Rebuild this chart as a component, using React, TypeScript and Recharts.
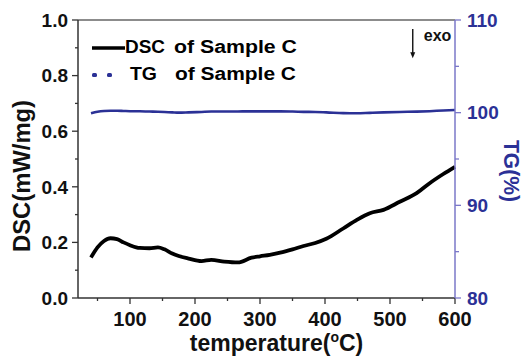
import React from 'react';
import { ComposedChart, Line, XAxis, YAxis, Legend, ReferenceLine, Label } from 'recharts';

// temperature (ºC) sampled along the curves
const temperature = [
  40, 50, 60, 70, 80, 90, 100, 115, 130, 143, 153, 165, 175, 190, 210, 225, 245, 266, 287, 300,
  315, 331, 350, 367, 385, 402, 428, 449, 469, 490, 515, 541, 561, 582, 600,
];
// DSC (mW/mg)
const dscValues = [
  0.146, 0.182, 0.205, 0.215, 0.212, 0.2, 0.19, 0.18, 0.179, 0.182, 0.175, 0.16, 0.151, 0.142,
  0.133, 0.137, 0.131, 0.128, 0.145, 0.15, 0.155, 0.163, 0.175, 0.187, 0.198, 0.213, 0.25,
  0.281, 0.305, 0.317, 0.346, 0.377, 0.413, 0.446, 0.472,
];
// TG (%)
const tgValues = [
  99.93, 100.1, 100.18, 100.2, 100.2, 100.18, 100.16, 100.15, 100.12, 100.1, 100.07, 100.03,
  100.0, 100.03, 100.08, 100.12, 100.12, 100.13, 100.14, 100.14, 100.14, 100.14, 100.12,
  100.09, 100.07, 100.03, 99.95, 99.93, 99.98, 100.03, 100.08, 100.11, 100.16, 100.24, 100.29,
];

const xTicks = [50, 100, 150, 200, 250, 300, 350, 400, 450, 500, 550, 600];
const dscTicks = [0, 0.1, 0.2, 0.3, 0.4, 0.5, 0.6, 0.7, 0.8, 0.9, 1.0];
const tgTicks = [80, 85, 90, 95, 100, 105, 110];

const rows = temperature.map((t, i) => ({ t, dsc: dscValues[i], tg: tgValues[i] }));

const FONT = '"Liberation Sans", Arial, sans-serif';
const AXIS = '#333';
const BLUE = '#2b3196';
const BLUE_AXIS = '#7b78c8';

const BottomTick = (props: any) => {
  const { x, y, payload } = props;
  const major = payload.value % 100 === 0;
  return (
    <g>
      <line x1={x} x2={x} y1={y} y2={y + (major ? 6 : 3)} stroke={AXIS} strokeWidth={1.3} />
      {major && (
        <text x={x} y={y + 28} textAnchor="middle" fontFamily={FONT} fontWeight="bold" fontSize={20} fill="#111">
          {payload.value}
        </text>
      )}
    </g>
  );
};

const LeftTick = (props: any) => {
  const { x, y, payload } = props;
  const major = Math.round(payload.value * 10) % 2 === 0;
  return (
    <g>
      <line x1={x} x2={x - (major ? 6 : 3)} y1={y} y2={y} stroke={AXIS} strokeWidth={1.3} />
      {major && (
        <text x={x - 10} y={y + 6.8} textAnchor="end" fontFamily={FONT} fontWeight="bold" fontSize={19} fill="#111">
          {payload.value.toFixed(1)}
        </text>
      )}
    </g>
  );
};

const RightTick = (props: any) => {
  const { x, y, payload } = props;
  const major = payload.value % 10 === 0;
  return (
    <g>
      <line x1={x} x2={x + (major ? 6 : 4)} y1={y} y2={y} stroke={BLUE_AXIS} strokeWidth={1.3} />
      {major && (
        <text x={x + 12} y={y + 6.8} textAnchor="start" fontFamily={FONT} fontWeight="bold" fontSize={19} fill={BLUE}>
          {payload.value}
        </text>
      )}
    </g>
  );
};

const XTitle = (props: any) => {
  const { viewBox } = props;
  return (
    <text
      x={viewBox.x + viewBox.width / 2 + 10}
      y={viewBox.y + 53}
      textAnchor="middle"
      fontFamily={FONT}
      fontWeight="bold"
      fontSize={23}
      fill="#111"
    >
      temperature(<tspan fontSize={14} dy={-9}>o</tspan>
      <tspan dy={9}>C)</tspan>
    </text>
  );
};

const LeftTitle = (props: any) => {
  const { viewBox } = props;
  const cx = viewBox.x + 21.5;
  const cy = viewBox.y + viewBox.height / 2 + 17;
  return (
    <text
      x={cx}
      y={cy}
      transform={`rotate(-90 ${cx} ${cy})`}
      textAnchor="middle"
      dominantBaseline="central"
      fontFamily={FONT}
      fontWeight="bold"
      fontSize={23}
      textLength={152}
      lengthAdjust="spacingAndGlyphs"
      fill="#111"
    >
      DSC(mW/mg)
    </text>
  );
};

const RightTitle = (props: any) => {
  const { viewBox } = props;
  const cx = viewBox.x + 56;
  const cy = viewBox.y + viewBox.height / 2 + 12;
  return (
    <text
      x={cx}
      y={cy}
      transform={`rotate(90 ${cx} ${cy})`}
      textAnchor="middle"
      dominantBaseline="central"
      fontFamily={FONT}
      fontWeight="bold"
      fontSize={22}
      textLength={62}
      lengthAdjust="spacingAndGlyphs"
      fill={BLUE}
    >
      TG(%)
    </text>
  );
};

const ExoArrow = (props: any) => {
  const { x1, y1, y2 } = props;
  return (
    <g>
      <line x1={x1} x2={x1} y1={y1} y2={y2 - 5} stroke="#111" strokeWidth={1.4} />
      <polygon points={`${x1 - 2.5},${y2 - 6} ${x1 + 2.5},${y2 - 6} ${x1},${y2}`} fill="#111" />
      <text x={x1 + 11} y={y1 + 12} fontFamily={FONT} fontWeight="bold" fontSize={16} fill="#111">
        exo
      </text>
    </g>
  );
};

const LegendBox = () => (
  <svg width={240} height={60} style={{ display: 'block' }}>
    <line x1={12} x2={45} y1={18} y2={18} stroke="#000" strokeWidth={3.5} />
    <text x={45} y={23} fontFamily={FONT} fontWeight="bold" fontSize={18} textLength={40} lengthAdjust="spacingAndGlyphs">
      DSC
    </text>
    <text x={94} y={23} fontFamily={FONT} fontWeight="bold" fontSize={18} textLength={123} lengthAdjust="spacingAndGlyphs">
      of Sample C
    </text>
    <rect x={12} y={43} width={5} height={4} rx={1.5} fill={BLUE} />
    <rect x={27} y={43} width={5} height={4} rx={1.5} fill={BLUE} />
    <text x={50} y={50} fontFamily={FONT} fontWeight="bold" fontSize={18} textLength={27} lengthAdjust="spacingAndGlyphs">
      TG
    </text>
    <text x={95} y={50} fontFamily={FONT} fontWeight="bold" fontSize={18} textLength={121} lengthAdjust="spacingAndGlyphs">
      of Sample C
    </text>
  </svg>
);

export default function App() {
  return (
    <div style={{ position: 'absolute', left: 0, top: 0, width: 524, height: 359, background: '#fff' }}>
      <ComposedChart width={524} height={359} data={rows} margin={{ top: 20, right: 0, bottom: 0, left: 0 }}>
        <XAxis
          dataKey="t"
          type="number"
          domain={[20, 600]}
          ticks={xTicks}
          interval={0}
          height={61}
          tickSize={0}
          tickMargin={0}
          tickLine={false}
          tick={(p: any) => <BottomTick {...p} />}
          axisLine={{ stroke: AXIS, strokeWidth: 1.5 }}
        >
          <Label content={XTitle} />
        </XAxis>
        <YAxis
          yAxisId="dsc"
          type="number"
          domain={[0, 1]}
          ticks={dscTicks}
          interval={0}
          width={78}
          tickSize={0}
          tickMargin={0}
          tickLine={false}
          tick={(p: any) => <LeftTick {...p} />}
          axisLine={{ stroke: AXIS, strokeWidth: 1.5 }}
        >
          <Label content={LeftTitle} />
        </YAxis>
        <YAxis
          yAxisId="tg"
          orientation="right"
          type="number"
          domain={[80, 110]}
          ticks={tgTicks}
          interval={0}
          width={69}
          tickSize={0}
          tickMargin={0}
          tickLine={false}
          tick={(p: any) => <RightTick {...p} />}
          axisLine={{ stroke: BLUE_AXIS, strokeWidth: 1.5 }}
        >
          <Label content={RightTitle} />
        </YAxis>
        <ReferenceLine yAxisId="dsc" y={1} stroke="#666" strokeWidth={1.5} />
        <ReferenceLine
          yAxisId="dsc"
          segment={[
            { x: 535, y: 0.968 },
            { x: 535, y: 0.862 },
          ]}
          shape={ExoArrow}
        />
        <Line
          yAxisId="tg"
          dataKey="tg"
          type="monotone"
          stroke={BLUE}
          strokeWidth={2.6}
          dot={false}
          isAnimationActive={false}
        />
        <Line
          yAxisId="dsc"
          dataKey="dsc"
          type="monotone"
          stroke="#000"
          strokeWidth={3.8}
          dot={false}
          isAnimationActive={false}
        />
        <Legend
          layout="vertical"
          align="center"
          verticalAlign="middle"
          content={LegendBox}
          wrapperStyle={{ left: 80, top: 30, width: 240, height: 60 }}
        />
      </ComposedChart>
    </div>
  );
}
